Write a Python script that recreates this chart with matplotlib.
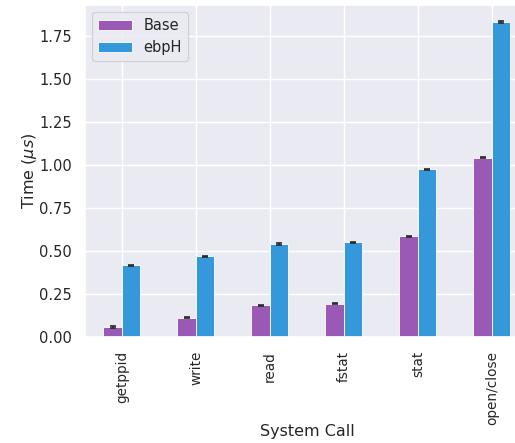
import matplotlib
matplotlib.use("Agg")
import matplotlib.pyplot as plt
import numpy as np
import seaborn as sns

syscalls = ["getppid", "write", "read", "fstat", "stat", "open/close"]
base_times = [0.058, 0.112, 0.186, 0.194, 0.585, 1.043]
ebph_times = [0.417, 0.469, 0.541, 0.551, 0.975, 1.832]
base_err = [0.004, 0.003, 0.003, 0.004, 0.004, 0.005]
ebph_err = [0.004, 0.004, 0.004, 0.004, 0.004, 0.007]

sns.set_theme(style="darkgrid")
plt.rcParams['font.family'] = ['DejaVu Sans']

fig = plt.figure(figsize=(5.15, 4.43), dpi=100)
ax = fig.add_axes([0.165, 0.239, 0.862, 0.75])

x = np.arange(len(syscalls))
width = 0.25
err_kw = dict(ecolor='#2a2a2a', capsize=2.5, elinewidth=1.2, capthick=1.2)
ax.bar(x - width / 2, base_times, width, yerr=base_err, label='Base',
       color='#9b59b6', edgecolor='white', linewidth=0.6, error_kw=err_kw)
ax.bar(x + width / 2, ebph_times, width, yerr=ebph_err, label='ebpH',
       color='#3498db', edgecolor='white', linewidth=0.6, error_kw=err_kw)

ax.set_xlim(-0.5, len(syscalls) - 0.5)
ax.set_ylim(0, 1.93)
ticks = np.arange(0, 1.76, 0.25)
ax.set_yticks(ticks)
ax.set_yticklabels([f'{v:.2f}' for v in ticks], fontsize=10.5)
ax.set_xticks(x)
ax.set_xticklabels(syscalls, rotation=90, fontsize=9.8)
ax.tick_params(axis='x', pad=4)
ax.set_xlabel('System Call', fontsize=11.5)
ax.xaxis.set_label_coords(0.5, -0.262)
ax.set_ylabel(r'Time ($\mu s$)', fontsize=11.5)
ax.yaxis.set_label_coords(-0.103, 0.5)
ax.legend(loc='upper left', fontsize=10.5, handlelength=2.3)

fig.savefig('out.png', dpi=100)
